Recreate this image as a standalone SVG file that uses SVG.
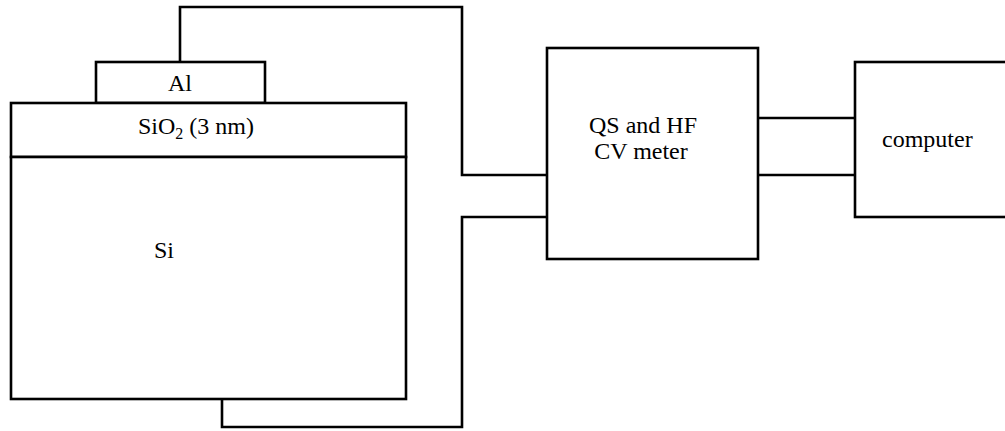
<svg xmlns="http://www.w3.org/2000/svg" width="1005" height="431" viewBox="0 0 1005 431">
<style>
.b{fill:#fff;stroke:#000;stroke-width:2.6}
.w{fill:none;stroke:#000;stroke-width:2.6;stroke-linejoin:miter}
.t{font-family:'Liberation Serif','Times New Roman',serif;font-size:24px;fill:#000}
</style>
<rect width="1005" height="431" fill="#fff"/>
<g id="connectors">
<path class="w" d="M180,62 V7 H462 V175 H547"/>
<path class="w" d="M222,399 V427 H462 V217 H547"/>
<path class="w" d="M758,118 H855"/>
<path class="w" d="M758,175 H855"/>
</g>
<g id="al">
<rect class="b" x="96" y="62" width="169" height="41"/>
<text class="t" x="180" y="91" text-anchor="middle">Al</text>
</g>
<g id="sio2">
<rect class="b" x="11" y="103" width="395" height="54"/>
<text class="t" x="196" y="134" text-anchor="middle">SiO<tspan font-size="16" dy="5">2</tspan><tspan dy="-5"> (3 nm)</tspan></text>
</g>
<g id="si">
<rect class="b" x="11" y="157" width="395" height="242"/>
<text class="t" x="154" y="258">Si</text>
</g>
<g id="cvmeter">
<rect class="b" x="547" y="48" width="211" height="211"/>
<text class="t" x="643" y="133" text-anchor="middle">QS and HF</text>
<text class="t" x="641" y="159" text-anchor="middle">CV meter</text>
</g>
<g id="computer">
<rect class="b" x="855" y="62" width="160" height="155"/>
<text class="t" x="882" y="147">computer</text>
</g>
</svg>
